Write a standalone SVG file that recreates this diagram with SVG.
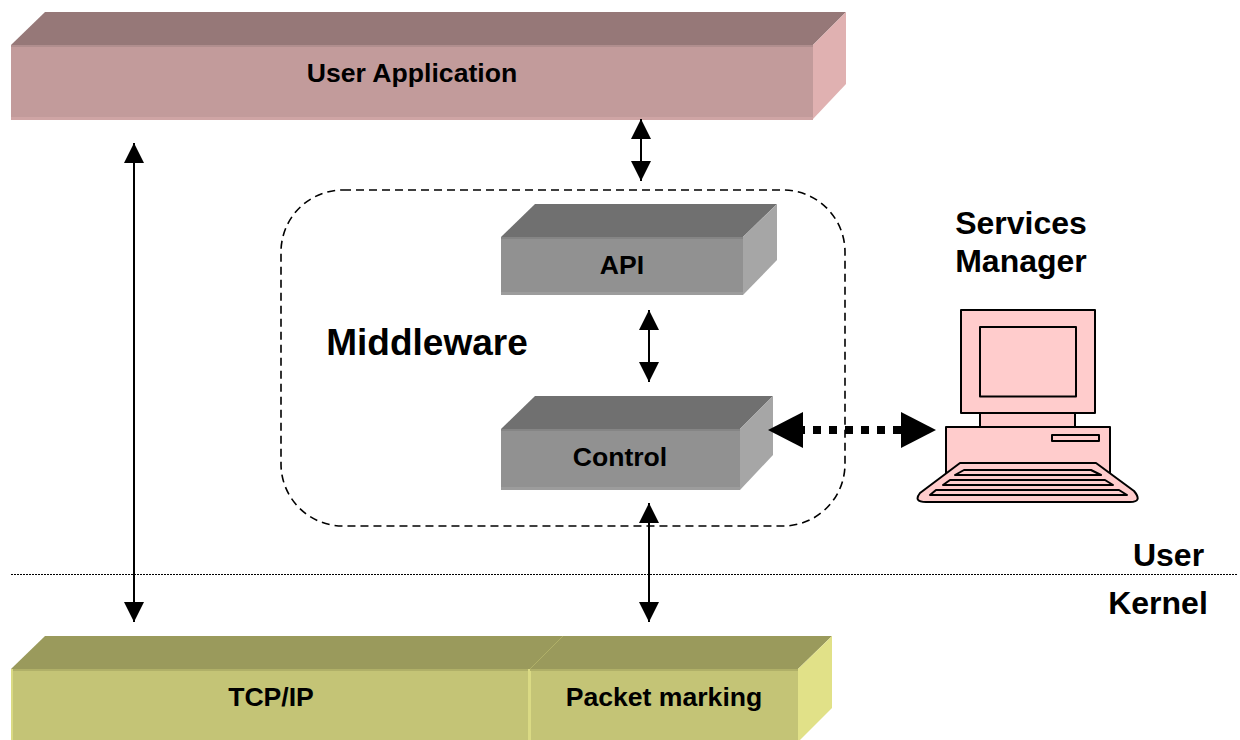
<svg xmlns="http://www.w3.org/2000/svg" width="1240" height="740" viewBox="0 0 1240 740">
<style>
text{font-family:"Liberation Sans",Arial,sans-serif;font-weight:bold;fill:#000;text-anchor:middle}
.t20{font-size:26.6px}.t19{font-size:32px}
.a{stroke:#000;stroke-width:2;fill:none;marker-start:url(#h);marker-end:url(#h)}
.pc{fill:#ffcccc;stroke:#000;stroke-width:2;stroke-linejoin:round}
</style>
<defs>
<marker id="h" viewBox="0 0 20 20" refX="20" refY="10" markerUnits="userSpaceOnUse" markerWidth="20" markerHeight="20" orient="auto-start-reverse"><path d="M0 0L20 10L0 20Z" fill="#000"/></marker>
<marker id="H" viewBox="0 0 36 36" refX="2" refY="18" markerUnits="userSpaceOnUse" markerWidth="36" markerHeight="36" orient="auto-start-reverse"><path d="M0 0L35 18L0 36Z" fill="#000"/></marker>
</defs>
<g id="user-application">
<rect x="11" y="45" width="802" height="75" fill="#c29b9b"/>
<path d="M11 45L45 12H846L813 45Z" fill="#967878"/>
<path d="M813 45L846 12V84L813 119Z" fill="#e0b1b1"/>
<rect x="11" y="117" width="802" height="3" fill="#cfa5a5"/>
<rect x="11" y="45" width="802" height="2" fill="#b08e8e"/>
<text x="412" y="82" class="t20">User Application</text>
</g>
<g id="middleware">
<rect x="281" y="190" width="564" height="336" rx="62" ry="62" fill="none" stroke="#000" stroke-width="1.6" stroke-dasharray="8 5"/>
<text x="427" y="355" style="font-size:37px">Middleware</text>
</g>
<g id="api">
<rect x="501" y="237" width="242" height="58" fill="#919191"/>
<path d="M501 237L535 204H777L743 237Z" fill="#707070"/>
<path d="M743 237L777 204V260L743 295Z" fill="#a6a6a6"/>
<rect x="501" y="292" width="242" height="3" fill="#9c9c9c"/>
<rect x="501" y="237" width="242" height="2" fill="#858585"/>
<text x="622" y="274" class="t20">API</text>
</g>
<g id="control">
<rect x="501" y="429" width="239" height="61" fill="#919191"/>
<path d="M501 429L535 396H773L740 429Z" fill="#707070"/>
<path d="M740 429L773 396V455L740 490Z" fill="#a6a6a6"/>
<rect x="501" y="487" width="239" height="3" fill="#9c9c9c"/>
<rect x="501" y="429" width="239" height="2" fill="#858585"/>
<text x="620" y="466" class="t20">Control</text>
</g>
<g id="tcp-ip">
<rect x="11" y="669" width="519" height="71" fill="#c4c476"/>
<path d="M11 669L45 636H563L530 669Z" fill="#9a9a5c"/>
<rect x="11" y="669" width="519" height="2" fill="#b0b068"/>
<rect x="11" y="669" width="2" height="71" fill="#dada84"/>
<text x="271" y="706" class="t20">TCP/IP</text>
</g>
<g id="packet-marking">
<rect x="530" y="669" width="268" height="71" fill="#c4c476"/>
<path d="M530 669L563 636H832L798 669Z" fill="#9a9a5c"/>
<path d="M798 669L832 636V708L798 742Z" fill="#e1e188"/>
<rect x="528" y="669" width="3" height="71" fill="#dada84"/>
<rect x="530" y="669" width="268" height="2" fill="#b0b068"/>
<path d="M530 669L563 636" stroke="#b0b068" stroke-width="1" fill="none"/>
<text x="664" y="706" class="t20">Packet marking</text>
</g>
<g id="services-manager">
<text x="1021" y="234" class="t19">Services</text>
<text x="1021" y="272" class="t19">Manager</text>
<rect class="pc" x="961" y="310" width="134" height="103"/>
<rect class="pc" x="980" y="327" width="96" height="69.500"/>
<rect class="pc" x="980" y="413" width="95" height="14"/>
<rect class="pc" x="946" y="427" width="164" height="72"/>
<rect class="pc" x="1052" y="435" width="47" height="6"/>
<path class="pc" d="M960 463H1096L1134 491Q1143 502 1130 502H926Q913 502 920 493Z"/>
<path class="pc" d="M964 470H1091L1101 475H955Z" stroke-width="1.600"/>
<path class="pc" d="M950 480H1105L1113 485H943Z" stroke-width="1.600"/>
<path class="pc" d="M936 490H1119L1127 495H930Z" stroke-width="1.600"/>
</g>
<g id="connectors">
<line class="a" x1="134" y1="143" x2="134" y2="622"/>
<line class="a" x1="641" y1="119" x2="641" y2="181"/>
<line class="a" x1="649" y1="310" x2="649" y2="382"/>
<line class="a" x1="649" y1="503" x2="649" y2="622"/>
<line x1="801" y1="430" x2="903" y2="430" stroke="#000" stroke-width="8" stroke-dasharray="4 8 8 8 8 8 8 8 8 8 8 8 8 8" marker-start="url(#H)" marker-end="url(#H)"/>
<line x1="11" y1="574.500" x2="1238" y2="574.500" stroke="#000" stroke-width="1" stroke-dasharray="2 1"/>
</g>
<g id="layer-labels">
<text x="1168.500" y="566" class="t19">User</text>
<text x="1158" y="614" class="t19">Kernel</text>
</g>
</svg>
